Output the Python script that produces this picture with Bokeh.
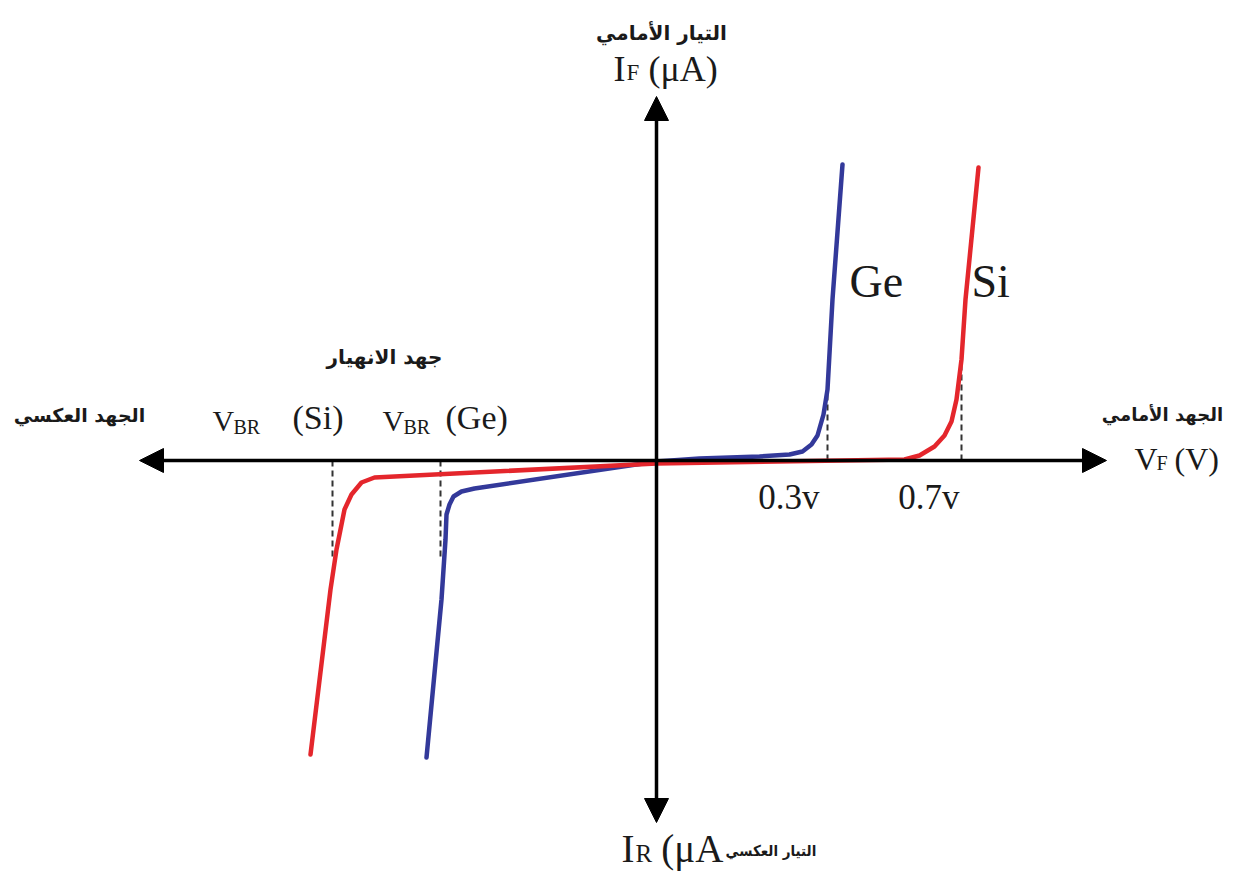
from bokeh.plotting import figure
from bokeh.models import Range1d, Arrow, NormalHead
from bokeh.core.properties import value
from bokeh.embed import file_html
from bokeh.resources import INLINE

# ---- data (schematic units) ----
# Germanium diode curve (blue)
ge_v = [-2.30, -2.15, -2.11, -2.10, -2.07, -2.03, -1.95, -1.82, 0.0, 0.43, 1.03, 1.33, 1.46, 1.55, 1.61, 1.67, 1.71, 1.76, 1.86]
ge_i = [-2.97, -1.39, -0.79, -0.54, -0.44, -0.36, -0.31, -0.28, -0.01, 0.02, 0.04, 0.06, 0.09, 0.16, 0.25, 0.46, 0.71, 1.61, 2.96]
# Silicon diode curve (red)
si_v = [-3.46, -3.26, -3.20, -3.12, -3.05, -2.95, -2.82, 0.0, 2.48, 2.63, 2.78, 2.88, 2.95, 3.00, 3.05, 3.09, 3.22]
si_i = [-2.94, -1.29, -0.89, -0.49, -0.34, -0.22, -0.17, -0.03, 0.01, 0.05, 0.14, 0.25, 0.39, 0.61, 1.01, 1.61, 2.93]

# knee (forward) markers and breakdown markers
knee_v = [1.71, 3.05]
knee_i = [0.72, 1.02]
knee_labels = ["0.3v", "0.7v"]
vbr_v = [-2.16, -3.24]
vbr_i = [-1.0, -1.0]

# axis extents
x_axis_ends = [-5.17, 4.50]
y_axis_ends = [-3.62, 3.64]

BLUE = "#33399a"
RED = "#e4262c"

W, H = 1230, 874
ORG = 1  # page pixel where the figure starts
# pixel reference (page coords) -> data helper for annotation placement
def X(px):
    return (px - 657) / 100.0
def Y(py):
    return (461 - py) / 100.0

p = figure(width=W, height=H, output_backend="svg", toolbar_location=None,
           x_range=Range1d(X(ORG), X(ORG + W)), y_range=Range1d(Y(ORG + H), Y(ORG)),
           min_border=0)
p.axis.visible = False
p.grid.visible = False
p.outline_line_color = None
p.background_fill_color = "white"
p.border_fill_color = "white"

# dashed guides
p.segment(x0=knee_v, y0=[0, 0], x1=knee_v, y1=knee_i, line_color="#333333",
          line_width=2, line_dash="6 4")
p.segment(x0=vbr_v, y0=[0, 0], x1=vbr_v, y1=vbr_i, line_color="#333333",
          line_width=2, line_dash="6 4")

# axes with arrows
def head():
    return NormalHead(size=24, fill_color="black", line_color="black")
p.add_layout(Arrow(start=head(), end=head(),
                   x_start=x_axis_ends[0], y_start=0, x_end=x_axis_ends[1], y_end=0,
                   line_width=3.5, line_color="black"))
p.add_layout(Arrow(start=head(), end=head(),
                   x_start=0, y_start=y_axis_ends[0], x_end=0, y_end=y_axis_ends[1],
                   line_width=3.5, line_color="black"))

# curves
p.line(ge_v, ge_i, line_color=BLUE, line_width=4.5, line_join="round", line_cap="round")
p.line(si_v, si_i, line_color=RED, line_width=4.5, line_join="round", line_cap="round")

SERIF = value("Liberation Serif")
AR = value("DejaVu Sans")
ARC = value("DejaVu Sans Condensed")
NB = "\u00a0"

def txt(x, y, s, size, font=SERIF, align="left", style="normal"):
    p.text(x=[x], y=[y], text=[s], text_font=font, text_font_size=f"{size}px",
           text_align=align, text_baseline="middle", text_color="#1a1a1a",
           text_font_style=style)

# top label
txt(X(662), Y(33), "التيار الأمامي", 20, AR, "center", "bold")
txt(X(614), Y(69), "I", 36)
txt(X(627), Y(73), "F", 23)
txt(X(640), Y(69), NB + "(μA)", 36)

# bottom label
txt(X(622), Y(849), "I", 39)
txt(X(636), Y(854), "R", 25)
txt(X(652), Y(849), NB + "(μA", 39)
txt(X(726), Y(851), "التيار العكسي", 15, ARC, "left", "bold")

# right label
txt(X(1163), Y(415), "الجهد الأمامي", 18, AR, "center", "bold")
txt(X(1135), Y(459), "V", 32)
txt(X(1157), Y(463), "F", 20)
txt(X(1167), Y(459), NB + "(V)", 32)

# left labels
txt(X(80), Y(415), "الجهد العكسي", 19, AR, "center", "bold")
txt(X(385), Y(357), "جهد الانهيار", 20, AR, "center", "bold")
txt(X(213), Y(421), "V", 30)
txt(X(234), Y(427), "BR", 20)
txt(X(293), Y(418), "(Si)", 34)
txt(X(383), Y(421), "V", 30)
txt(X(404), Y(427), "BR", 20)
txt(X(446), Y(418), "(Ge)", 34)

# knee labels
p.text(x=knee_v, y=[Y(498), Y(498)], text=knee_labels, text_font=SERIF,
       text_font_size="35px", text_align="right", text_baseline="middle",
       text_color="#1a1a1a", x_offset=[-8, -2])

# curve names
txt(X(850), Y(282), "Ge", 46)
txt(X(972), Y(282), "Si", 46)

open("out.html", "w").write(file_html(p, INLINE))
